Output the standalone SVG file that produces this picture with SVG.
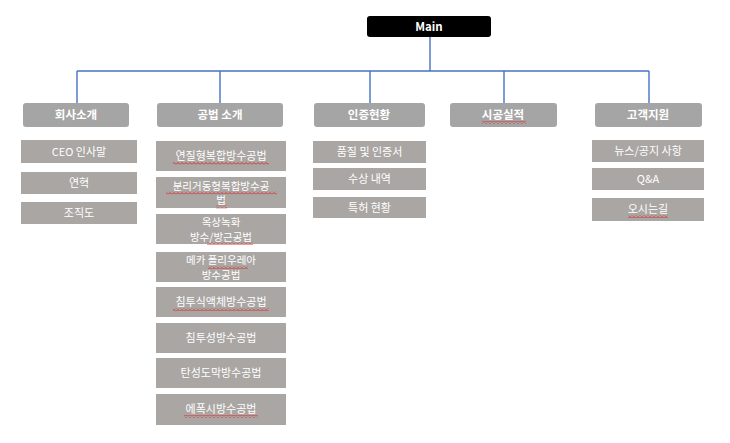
<svg xmlns="http://www.w3.org/2000/svg" width="730" height="443" viewBox="0 0 730 443">
<style>
.l1 { fill: #a5a5a5; }
.l2 { fill: #aaa6a4; }
.t1 { font-family: "Noto Sans CJK KR", "Liberation Sans", sans-serif; font-size: 11.5px; font-weight: bold; fill: #ffffff; text-anchor: middle; }
.t2 { font-family: "Noto Sans CJK KR", "Liberation Sans", sans-serif; font-size: 11px; fill: #ffffff; text-anchor: middle; }
.t3 { font-family: "Noto Sans CJK KR", "Liberation Sans", sans-serif; font-size: 10.5px; fill: #ffffff; text-anchor: middle; }
.conn { stroke: #4472c4; stroke-width: 1.4; fill: none; }
.sq { fill: url(#wave); }
</style>
<defs>
<pattern id="wave" width="4" height="3" patternUnits="userSpaceOnUse">
<path d="M0,2.5 L2,0.5 L4,2.5" stroke="#e02020" stroke-width="0.9" fill="none"/>
</pattern>
</defs>
<rect width="730" height="443" fill="#ffffff"/>
<g id="connectors">
<path class="conn" d="M430,37 V71"/>
<path class="conn" d="M77,71 H649"/>
<path class="conn" d="M77,71 V103"/>
<path class="conn" d="M220,71 V103"/>
<path class="conn" d="M370,71 V103"/>
<path class="conn" d="M504,71 V103"/>
<path class="conn" d="M649,71 V103"/>
</g>
<g id="main">
<rect x="367" y="16" width="124" height="21" rx="3" fill="#000000"/>
<text class="t1" x="429" y="30.5">Main</text>
</g>
<g id="n-company">
<rect class="l1" x="23" y="103" width="106" height="24" rx="3"/>
<text class="t1" x="76" y="119">회사소개</text>
</g>
<g id="n-method">
<rect class="l1" x="157" y="103" width="126" height="24" rx="3"/>
<text class="t1" x="220" y="119">공법 소개</text>
</g>
<g id="n-cert">
<rect class="l1" x="314" y="103" width="111" height="24" rx="3"/>
<text class="t1" x="369" y="119">인증현황</text>
</g>
<g id="n-work">
<rect class="l1" x="450" y="103" width="107" height="24" rx="3"/>
<text class="t1" x="503" y="119">시공실적</text>
<rect class="sq" x="482" y="121" width="44" height="3"/>
</g>
<g id="n-cs">
<rect class="l1" x="595" y="103" width="107" height="24" rx="3"/>
<text class="t1" x="648" y="119">고객지원</text>
</g>
<g id="c-ceo">
<rect class="l2" x="21" y="140" width="116" height="23"/>
<text class="t2" x="79" y="155.5">CEO 인사말</text>
</g>
<g id="c-history">
<rect class="l2" x="21" y="172" width="116" height="22"/>
<text class="t2" x="79" y="187">연혁</text>
</g>
<g id="c-org">
<rect class="l2" x="21" y="202" width="116" height="22"/>
<text class="t2" x="79" y="217">조직도</text>
</g>
<g id="m1">
<rect class="l2" x="156" y="141" width="130" height="30"/>
<text class="t2" x="221" y="160">연질형복합방수공법</text>
<rect class="sq" x="173" y="162" width="96" height="3"/>
</g>
<g id="m2">
<rect class="l2" x="156" y="177" width="130" height="31"/>
<text class="t3" x="221" y="189.5">분리거동형복합방수공</text>
<text class="t3" x="221" y="204">법</text>
<rect class="sq" x="166" y="191.5" width="111" height="3"/>
<rect class="sq" x="216" y="205.5" width="11" height="3"/>
</g>
<g id="m3">
<rect class="l2" x="156" y="214" width="130" height="30"/>
<text class="t3" x="221" y="226">옥상녹화</text>
<text class="t3" x="221" y="240.5">방수/방근공법</text>
<rect class="sq" x="207" y="242" width="46" height="3"/>
</g>
<g id="m4">
<rect class="l2" x="156" y="252" width="130" height="30"/>
<text class="t3" x="221" y="264">메카 폴리우레아</text>
<text class="t3" x="221" y="278.5">방수공법</text>
<rect class="sq" x="208" y="266" width="40" height="3"/>
</g>
<g id="m5">
<rect class="l2" x="156" y="287" width="130" height="30"/>
<text class="t2" x="221" y="306">침투식액체방수공법</text>
<rect class="sq" x="173" y="308" width="96" height="3"/>
</g>
<g id="m6">
<rect class="l2" x="156" y="323" width="130" height="30"/>
<text class="t2" x="221" y="342">침투성방수공법</text>
</g>
<g id="m7">
<rect class="l2" x="156" y="358" width="130" height="30"/>
<text class="t2" x="221" y="377">탄성도막방수공법</text>
</g>
<g id="m8">
<rect class="l2" x="156" y="394" width="130" height="31"/>
<text class="t2" x="221" y="413">에폭시방수공법</text>
<rect class="sq" x="184" y="415" width="74" height="3"/>
</g>
<g id="r1">
<rect class="l2" x="313" y="141" width="113" height="22"/>
<text class="t2" x="369.5" y="156">품질 및 인증서</text>
</g>
<g id="r2">
<rect class="l2" x="313" y="168" width="113" height="22"/>
<text class="t2" x="369.5" y="183">수상 내역</text>
</g>
<g id="r3">
<rect class="l2" x="313" y="197" width="113" height="21"/>
<text class="t2" x="369.5" y="211.5">특허 현황</text>
</g>
<g id="s1">
<rect class="l2" x="592" y="140" width="112" height="22"/>
<text class="t2" x="648" y="155">뉴스/공지 사항</text>
</g>
<g id="s2">
<rect class="l2" x="592" y="168" width="112" height="22"/>
<text class="t2" x="648" y="183">Q&amp;A</text>
</g>
<g id="s3">
<rect class="l2" x="592" y="198" width="112" height="23"/>
<text class="t2" x="648" y="213">오시는길</text>
<rect class="sq" x="628" y="215" width="40" height="3"/>
</g>
</svg>
